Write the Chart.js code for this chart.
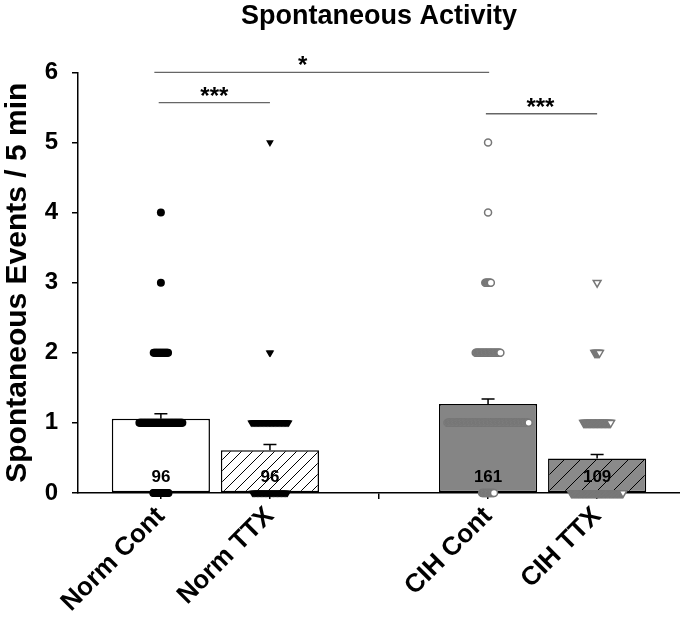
<!DOCTYPE html>
<html>
<head>
<meta charset="utf-8">
<script src="https://cdn.jsdelivr.net/npm/chart.js@4.4.1/dist/chart.umd.min.js"></script>
<style>
  html, body { margin: 0; padding: 0; background: #fff; }
  #wrap { width: 680px; height: 620px; }
</style>
</head>
<body>
<div id="wrap"><canvas id="activity"></canvas></div>
<script>
'use strict';
var groups = ['Norm Cont', 'Norm TTX', '', 'CIH Cont', 'CIH TTX'];
var barX = [1, 2, 4, 5];
var means = [1.06, 0.61, 1.27, 0.49];
var sems = [0.07, 0.08, 0.07, 0.06];
var nCells = [96, 96, 161, 109];
// number of cells with 0,1,2,3,4,5 events
var normContCounts = [20, 55, 19, 1, 1, 0];
var normTtxCounts = [45, 48, 2, 0, 0, 1];
var cihContCounts = [16, 103, 32, 8, 1, 1];
var cihTtxCounts = [66, 35, 7, 1, 0, 0];
var yTicks = [0, 1, 2, 3, 4, 5, 6];
// significance bars: from, to, height, label, label x
var brackets = [
    {from: 0.94, to: 4.01, y: 6.0, text: '*', at: 2.30},
    {from: 0.98, to: 2.0, y: 5.57, text: '***', at: 1.49},
    {from: 3.98, to: 5.0, y: 5.41, text: '***', at: 4.48}
];

var FONT = '"Liberation Sans", Arial, sans-serif';
Chart.defaults.font.family = FONT;
Chart.defaults.color = '#000';

var stripStep = 0.0073;
function strip(center, counts) {
    var pts = [];
    counts.forEach(function (k, v) {
        for (var j = 0; j < k; j++) {
            pts.push({x: center + (j - (k - 1) / 2) * stripStep, y: v});
        }
    });
    return pts;
}

function hatch(bg, gap) {
    var c = document.createElement('canvas');
    c.width = gap; c.height = gap;
    var g = c.getContext('2d');
    g.fillStyle = bg;
    g.fillRect(0, 0, gap, gap);
    g.strokeStyle = '#000';
    g.lineWidth = 1;
    g.beginPath();
    g.moveTo(0, gap); g.lineTo(gap, 0);
    g.moveTo(-2, 2); g.lineTo(2, -2);
    g.moveTo(gap - 2, gap + 2); g.lineTo(gap + 2, gap - 2);
    g.stroke();
    return c.getContext('2d').createPattern(c, 'repeat');
}

var overlay = {
    id: 'overlay',
    afterDatasetsDraw: function (chart) {
        var ctx = chart.ctx, xs = chart.scales.x, ys = chart.scales.y;
        ctx.save();
        ctx.strokeStyle = '#000';
        ctx.lineWidth = 1.5;
        barX.forEach(function (x, i) {
            var px = xs.getPixelForValue(x);
            var top = ys.getPixelForValue(means[i]);
            var hi = ys.getPixelForValue(means[i] + sems[i]);
            ctx.beginPath();
            ctx.moveTo(px, top); ctx.lineTo(px, hi);
            ctx.moveTo(px - 6.5, hi); ctx.lineTo(px + 6.5, hi);
            ctx.stroke();
        });
        ctx.fillStyle = '#000';
        ctx.textAlign = 'center';
        ctx.textBaseline = 'middle';
        ctx.font = 'bold 17px ' + FONT;
        barX.forEach(function (x, i) {
            ctx.fillText(String(nCells[i]), xs.getPixelForValue(x), ys.getPixelForValue(0) - 16);
        });
        ctx.strokeStyle = '#666';
        ctx.lineWidth = 1.3;
        ctx.textBaseline = 'alphabetic';
        ctx.font = 'bold 24px ' + FONT;
        brackets.forEach(function (b) {
            var py = ys.getPixelForValue(b.y);
            ctx.beginPath();
            ctx.moveTo(xs.getPixelForValue(b.from), py);
            ctx.lineTo(xs.getPixelForValue(b.to), py);
            ctx.stroke();
            ctx.fillText(b.text, xs.getPixelForValue(b.at), py + 1);
        });
        ctx.restore();
    }
};

var activity = new Chart(document.getElementById('activity'), {
    type: 'bar',
    data: {
        datasets: [
            {
                type: 'bar',
                data: barX.map(function (x, i) { return {x: x, y: means[i]}; }),
                backgroundColor: ['#fff', hatch('#fff', 11), '#858585', hatch('#8a8a8a', 16)],
                borderColor: '#000',
                borderWidth: 1.5,
                borderSkipped: false,
                barPercentage: 0.9,
                categoryPercentage: 1,
                order: 2
            },
            {
                type: 'scatter',
                data: strip(1, normContCounts),
                pointStyle: 'circle',
                pointRadius: 4,
                pointBackgroundColor: '#000',
                pointBorderColor: '#000',
                pointBorderWidth: 0,
                clip: false,
                order: 1
            },
            {
                type: 'scatter',
                data: strip(2, normTtxCounts),
                pointStyle: 'triangle',
                rotation: 180,
                pointRadius: 4.5,
                pointBackgroundColor: '#000',
                pointBorderColor: '#000',
                pointBorderWidth: 0,
                clip: false,
                order: 1
            },
            {
                type: 'scatter',
                data: strip(4, cihContCounts),
                pointStyle: 'circle',
                pointRadius: 3.5,
                pointBackgroundColor: '#fff',
                pointBorderColor: '#777',
                pointBorderWidth: 1.5,
                clip: false,
                order: 1
            },
            {
                type: 'scatter',
                data: strip(5, cihTtxCounts),
                pointStyle: 'triangle',
                rotation: 180,
                pointRadius: 4.5,
                pointBackgroundColor: '#fff',
                pointBorderColor: '#777',
                pointBorderWidth: 1.5,
                clip: false,
                order: 1
            }
        ]
    },
    options: {
        responsive: true,
        maintainAspectRatio: false,
        animation: false,
        events: [],
        layout: {autoPadding: false, padding: {top: 0, right: 0, bottom: 0, left: 0}},
        plugins: {
            legend: {display: false},
            tooltip: {enabled: false},
            title: {
                display: true,
                text: 'Spontaneous Activity',
                fullSize: false,
                color: '#000',
                font: {size: 27, weight: 'bold'},
                padding: {top: 0, bottom: 40}
            }
        },
        scales: {
            x: {
                type: 'linear',
                min: 0.24,
                max: 5.76,
                offset: false,
                afterBuildTicks: function (scale) {
                    scale.ticks = groups.map(function (g, i) { return {value: i + 1}; });
                },
                afterFit: function (scale) {
                    scale.paddingLeft = 0;
                    scale.paddingRight = 0;
                },
                ticks: {
                    autoSkip: false,
                    minRotation: 45,
                    maxRotation: 45,
                    padding: 2,
                    color: '#000',
                    font: {size: 26, weight: 'bold'},
                    callback: function (value) { return groups[value - 1]; }
                },
                grid: {drawOnChartArea: false, drawTicks: true, tickLength: 6, color: '#000', lineWidth: 1.5, offset: false},
                border: {color: '#000', width: 1.5}
            },
            y: {
                min: 0,
                max: 6,
                afterBuildTicks: function (scale) {
                    scale.ticks = yTicks.map(function (v) { return {value: v}; });
                },
                afterFit: function (scale) {
                    scale.width = 78;
                },
                ticks: {padding: 14, color: '#000', font: {size: 24, weight: 'bold'}},
                grid: {drawOnChartArea: false, drawTicks: true, tickLength: 6, color: '#000', lineWidth: 1.5},
                border: {color: '#000', width: 1.5},
                title: {
                    display: true,
                    text: 'Spontaneous Events / 5 min',
                    color: '#000',
                    font: {size: 30, weight: 'bold'},
                    padding: {top: 0, bottom: 6}
                }
            }
        }
    },
    plugins: [overlay]
});
</script>
</body>
</html>
